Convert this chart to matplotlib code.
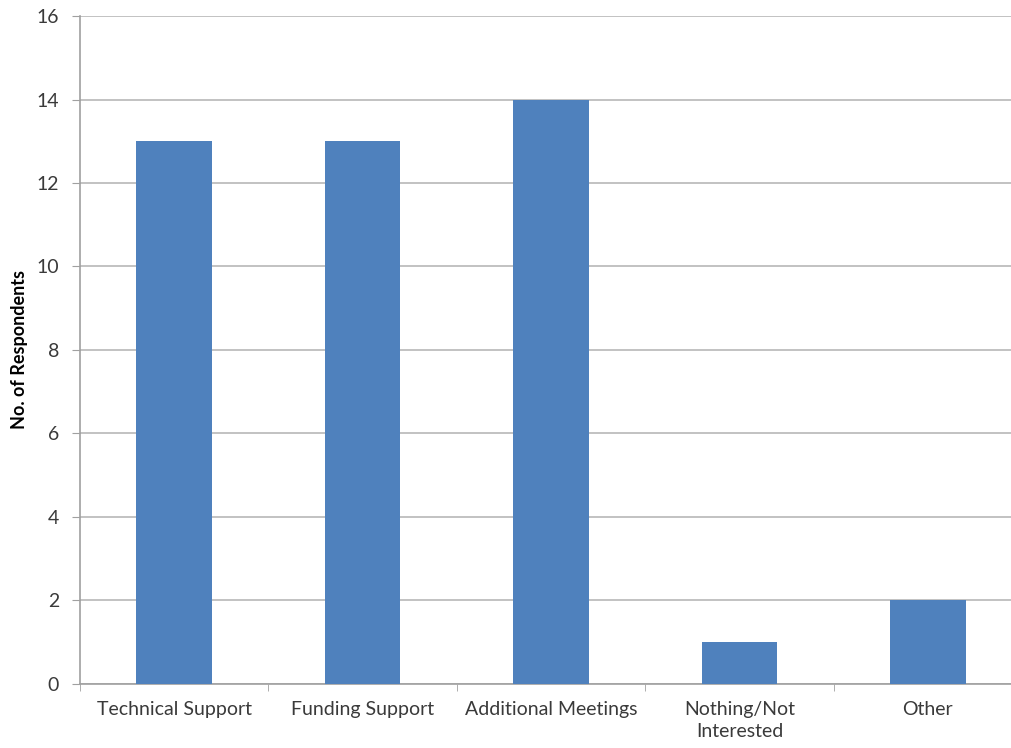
import matplotlib.pyplot as plt
import numpy as np

categories = ['Technical Support', 'Funding Support', 'Additional Meetings',
              'Nothing/Not\nInterested', 'Other']
respondents = [13, 13, 14, 1, 2]
y_ticks = [0, 2, 4, 6, 8, 10, 12, 14, 16]

plt.rcParams['font.family'] = ['Lato', 'DejaVu Sans']

fig = plt.figure(figsize=(10.12, 7.48), dpi=100)
ax = fig.add_axes([0.079, 0.0856, 0.931, 0.893])

x = np.arange(len(categories))
ax.bar(x, respondents, width=0.4, color='#4F81BD', zorder=3)

ax.set_xlim(-0.5, len(categories) - 0.5)
ax.set_ylim(0, 16)
ax.set_yticks(y_ticks)
ax.yaxis.grid(True, color='#B8B8B8', linewidth=1.2, zorder=0)

# category labels centred under bars, ticks on category boundaries
ax.set_xticks(x)
ax.set_xticklabels(categories, fontsize=14, color='#3A3A3A', linespacing=1.35)
ax.tick_params(axis='x', which='major', length=0, pad=12)
ax.set_xticks(np.arange(-0.5, len(categories)), minor=True)
ax.tick_params(axis='x', which='minor', length=5, color='#A0A0A0', direction='out')
ax.tick_params(axis='y', length=6, color='#A0A0A0', labelsize=14,
               labelcolor='#3A3A3A', pad=9)

for side in ['top', 'right']:
    ax.spines[side].set_visible(False)
for side in ['left', 'bottom']:
    ax.spines[side].set_color('#A0A0A0')
    ax.spines[side].set_linewidth(1.2)

ax.set_ylabel('No. of Respondents', fontsize=13, fontweight='bold', labelpad=6)

fig.savefig('out.png', dpi=100)
